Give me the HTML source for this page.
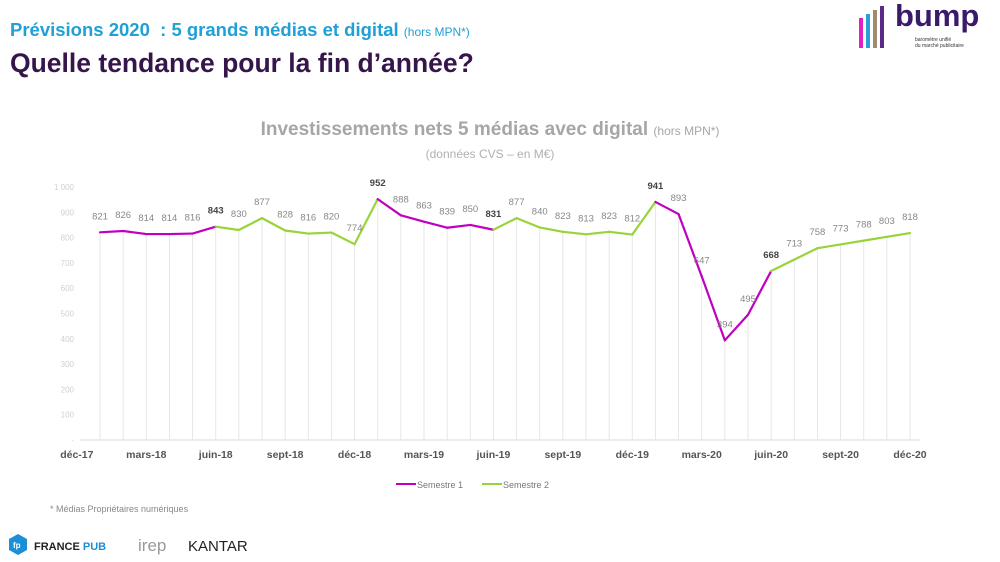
<!DOCTYPE html>
<html><head><meta charset="utf-8">
<style>
body{margin:0;background:#fff;width:1000px;height:562px;overflow:hidden;font-family:"Liberation Sans",sans-serif;position:relative}
.t1{position:absolute;left:10px;top:19px;font-size:18.5px;font-weight:bold;color:#1fa0d6}
.t1 small{font-size:12px;font-weight:normal}
.t2{position:absolute;left:10px;top:48px;font-size:26.5px;font-weight:bold;color:#35154a}
</style></head><body>
<div class="t1">Prévisions 2020 &nbsp;: 5 grands médias et digital <small>(hors MPN*)</small></div>
<div class="t2">Quelle tendance pour la fin d’année?</div>
<div style="position:absolute;left:855px;top:4px;width:140px;height:48px">
 <div style="position:absolute;left:4px;top:14px;width:4px;height:30px;background:#e020c0"></div>
 <div style="position:absolute;left:11px;top:10px;width:4px;height:34px;background:#2aa0d8"></div>
 <div style="position:absolute;left:18px;top:6px;width:4px;height:38px;background:#a08a70"></div>
 <div style="position:absolute;left:25px;top:2px;width:4px;height:42px;background:#5a2a8a"></div>
 <div style="position:absolute;left:40px;top:-6px;font-size:31px;font-weight:bold;color:#3a1a6a">bump</div>
 <div style="position:absolute;left:60px;top:33px;font-size:5px;color:#333;line-height:6px">baromètre unifié<br>du marché publicitaire</div>
</div>
<svg id="chart" width="1000" height="562" style="position:absolute;left:0;top:0">
 <text x="490" y="135" text-anchor="middle" font-size="19" font-weight="bold" fill="#a6a6a6">Investissements nets 5 médias avec digital <tspan font-size="12" font-weight="normal">(hors MPN*)</tspan></text>
 <text x="490" y="158" text-anchor="middle" font-size="12" fill="#b0b0b0">(données CVS – en M€)</text>
 <g id="grid"></g><g id="lines"></g><g id="labels"></g>
 <g>
  <line x1="396" y1="484" x2="416" y2="484" stroke="#c000c0" stroke-width="2"/>
  <text x="417" y="488" font-size="9" fill="#777">Semestre 1</text>
  <line x1="482" y1="484" x2="502" y2="484" stroke="#99d33a" stroke-width="2"/>
  <text x="503" y="488" font-size="9" fill="#777">Semestre 2</text>
 </g>
 <text x="50" y="512" font-size="9" fill="#888">* Médias Propriétaires numériques</text>
 <g>
  <polygon points="18,534 27,539 27,550 18,555 9,550 9,539" fill="#1d8fd6"/>
  <text x="13" y="548" font-size="8" fill="#fff" font-weight="bold">fp</text>
  <text x="34" y="550" font-size="11" font-weight="bold" fill="#222">FRANCE <tspan fill="#1d8fd6">PUB</tspan></text>
 </g>
 <text x="138" y="551" font-size="17" fill="#999">irep</text>
 <text x="188" y="551" font-size="15" fill="#222">KANTAR</text>
</svg>
<script>
const months=["jan-18","fév-18","mars-18","avr-18","mai-18","juin-18","juil-18","août-18","sept-18","oct-18","nov-18","déc-18","jan-19","fév-19","mars-19","avr-19","mai-19","juin-19","juil-19","août-19","sept-19","oct-19","nov-19","déc-19","jan-20","fév-20","mars-20","avr-20","mai-20","juin-20","juil-20","août-20","sept-20","oct-20","nov-20","déc-20"];
const values=[821,826,814,814,816,843,830,877,828,816,820,774,952,888,863,839,850,831,877,840,823,813,823,812,941,893,647,394,495,668,713,758,773,788,803,818];
const yTicks=[0,100,200,300,400,500,600,700,800,900,1000];
const xTickLabels=["déc-17","mars-18","juin-18","sept-18","déc-18","mars-19","juin-19","sept-19","déc-19","mars-20","juin-20","sept-20","déc-20"];
const xTickIdx=[-1,2,5,8,11,14,17,20,23,26,29,32,35];
const boldIdx=[5,12,17,24,29];
const NS="http://www.w3.org/2000/svg";
const x=i=>100+i*(810/35);
const y=v=>440-v*0.253;
function mk(t,a,p){const e=document.createElementNS(NS,t);for(const k in a)e.setAttribute(k,a[k]);p.appendChild(e);return e;}
const grid=document.getElementById('grid'),lines=document.getElementById('lines'),labels=document.getElementById('labels');
yTicks.forEach(v=>{const t=mk('text',{x:74,y:y(v)+3,'text-anchor':'end','font-size':8,fill:'#d0d0d0'},grid);t.textContent=v===1000?'1 000':(v===0?'-':v);

});
const ax=mk('line',{x1:80,y1:440,x2:920,y2:440,stroke:'#d9d9d9','stroke-width':1},grid);


values.forEach((v,i)=>{const g=mk('line',{x1:x(i),y1:440,x2:x(i),y2:y(v),stroke:'#e6e6e6','stroke-width':1},grid);

});
xTickLabels.forEach((l,k)=>{const t=mk('text',{x:x(xTickIdx[k]),y:458,'text-anchor':'middle','font-size':10.5,'font-weight':'bold',fill:'#555'},grid);t.textContent=l;

});
for(let i=0;i<values.length-1;i++){const m=i%12;const s1=(m<5);
const l=mk('line',{x1:x(i),y1:y(values[i]),x2:x(i+1),y2:y(values[i+1]),stroke:s1?'#c000c0':'#99d33a','stroke-width':2.2,'stroke-linecap':'round'},lines);

}
values.forEach((v,i)=>{const b=boldIdx.includes(i);const t=mk('text',{x:x(i),y:y(v)-13,'text-anchor':'middle','font-size':9.5,fill:b?'#444':'#888','font-weight':b?'bold':'normal'},labels);t.textContent=v;

});
</script>
</body></html>
